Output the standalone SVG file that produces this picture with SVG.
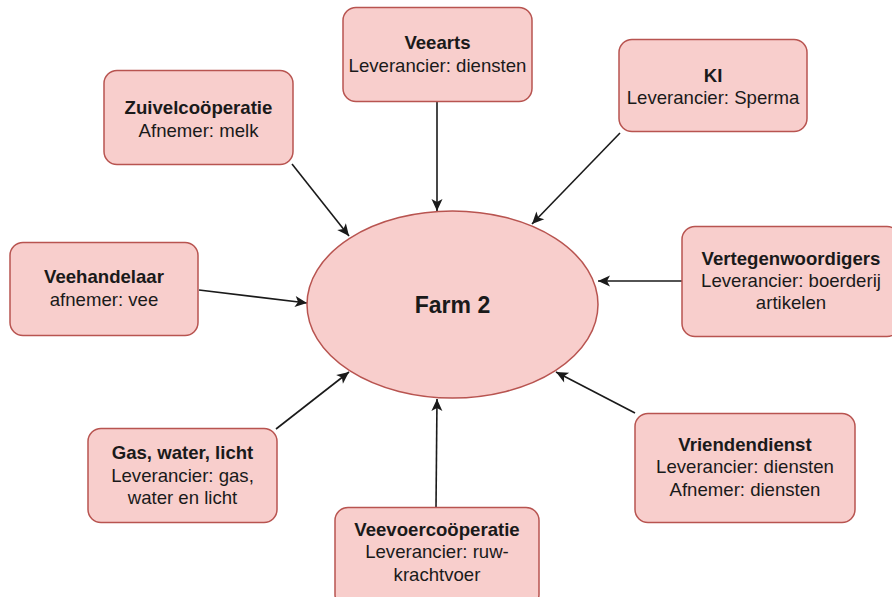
<svg xmlns="http://www.w3.org/2000/svg" width="892" height="597" viewBox="0 0 892 597">
  <style>
    .box { fill: #f8cecc; stroke: #b85450; stroke-width: 1.5; }
    .t { font-family: "Liberation Sans", Arial, sans-serif; font-size: 18.6px; fill: #1a1a1a; text-anchor: middle; }
    .b { font-weight: bold; }
    .big { font-size: 23px; }
    .edge { stroke: #1a1a1a; stroke-width: 1.6; fill: none; marker-end: url(#arrow); }
  </style>
  <defs>
    <marker id="arrow" markerUnits="userSpaceOnUse" markerWidth="14" markerHeight="14" viewBox="0 0 14 14" refX="13" refY="7" orient="auto">
      <path d="M1,1.5 L13,7 L1,12.5 L4,7 Z" fill="#1a1a1a"/>
    </marker>
  </defs>

  <rect width="892" height="597" fill="#ffffff"/>

  <!-- connectors -->
  <g id="connectors">
    <line class="edge" x1="437" y1="102" x2="437" y2="211"/>
    <line class="edge" x1="292" y1="164" x2="349" y2="236"/>
    <line class="edge" x1="620" y1="133" x2="532" y2="224"/>
    <line class="edge" x1="682" y1="281" x2="598" y2="281"/>
    <line class="edge" x1="199" y1="290" x2="307" y2="303"/>
    <line class="edge" x1="276" y1="429" x2="349" y2="372"/>
    <line class="edge" x1="436" y1="507" x2="437" y2="399"/>
    <line class="edge" x1="635" y1="413" x2="556" y2="372"/>
  </g>

  <!-- central node -->
  <g id="farm2">
    <ellipse class="box" cx="452.5" cy="304.5" rx="145.5" ry="93.5"/>
    <text class="t b big" x="452.5" y="313">Farm 2</text>
  </g>

  <g id="veearts">
    <rect class="box" x="343" y="7.5" width="189" height="94" rx="13"/>
    <text class="t b" x="437.5" y="49">Veearts</text>
    <text class="t" x="437.5" y="72">Leverancier: diensten</text>
  </g>

  <g id="zuivelcooperatie">
    <rect class="box" x="104" y="70.5" width="189" height="94" rx="13"/>
    <text class="t b" x="198.5" y="114">Zuivelcoöperatie</text>
    <text class="t" x="198.5" y="137">Afnemer: melk</text>
  </g>

  <g id="ki">
    <rect class="box" x="619" y="39.5" width="188" height="92" rx="13"/>
    <text class="t b" x="713" y="82">KI</text>
    <text class="t" x="713" y="104">Leverancier: Sperma</text>
  </g>

  <g id="vertegenwoordigers">
    <rect class="box" x="682" y="226.5" width="218" height="110" rx="13"/>
    <text class="t b" x="791" y="265">Vertegenwoordigers</text>
    <text class="t" x="791" y="287">Leverancier: boerderij</text>
    <text class="t" x="791" y="309">artikelen</text>
  </g>

  <g id="veehandelaar">
    <rect class="box" x="10" y="242.5" width="188" height="93" rx="13"/>
    <text class="t b" x="104" y="283">Veehandelaar</text>
    <text class="t" x="104" y="306">afnemer: vee</text>
  </g>

  <g id="gas-water-licht">
    <rect class="box" x="88" y="428.5" width="189" height="94" rx="13"/>
    <text class="t b" x="182.5" y="459">Gas, water, licht</text>
    <text class="t" x="182.5" y="482">Leverancier: gas,</text>
    <text class="t" x="182.5" y="504">water en licht</text>
  </g>

  <g id="veevoercooperatie">
    <rect class="box" x="335" y="507.5" width="204" height="100" rx="13"/>
    <text class="t b" x="437" y="536">Veevoercoöperatie</text>
    <text class="t" x="437" y="558">Leverancier: ruw-</text>
    <text class="t" x="437" y="581">krachtvoer</text>
  </g>

  <g id="vriendendienst">
    <rect class="box" x="635" y="413.5" width="220" height="109" rx="13"/>
    <text class="t b" x="745" y="451">Vriendendienst</text>
    <text class="t" x="745" y="473">Leverancier: diensten</text>
    <text class="t" x="745" y="496">Afnemer: diensten</text>
  </g>
</svg>
